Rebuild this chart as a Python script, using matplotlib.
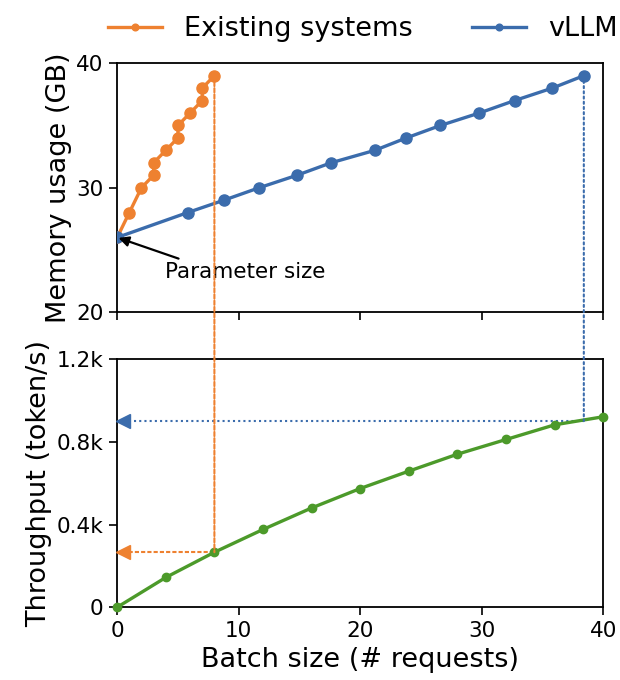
import matplotlib
matplotlib.use("Agg")
import matplotlib.pyplot as plt
from matplotlib.patches import ConnectionPatch
from matplotlib.ticker import FuncFormatter

# memory usage (GB) vs batch size
exist_bs = [0, 1, 2, 3, 3, 4, 5, 5, 6, 7, 7, 8]
exist_mem = [26, 28, 30, 31, 32, 33, 34, 35, 36, 37, 38, 39]
vllm_bs = [0, 5.8, 8.8, 11.7, 14.8, 17.6, 21.2, 23.8, 26.6, 29.8, 32.7, 35.8, 38.4]
vllm_mem = [26, 28, 29, 30, 31, 32, 33, 34, 35, 36, 37, 38, 39]

# throughput (token/s) vs batch size
thr_bs = [0, 4, 8, 12, 16, 20, 24, 28, 32, 36, 40]
thr = [0, 144, 266, 376, 480, 574, 658, 740, 811, 882, 921]

exist_max_bs = 8
exist_thr = 266
vllm_max_bs = 38.4
vllm_thr = 900

orange = '#EE8130'
blue = '#3B6CAC'
green = '#4C9A2A'

fig = plt.figure(figsize=(6.2, 6.8), dpi=100)
ax1 = fig.add_axes([0.189, 0.541, 0.784, 0.366])
ax2 = fig.add_axes([0.189, 0.107, 0.784, 0.365])

ax1.plot(exist_bs, exist_mem, '-o', color=orange, lw=2.4, ms=8, label='Existing systems', zorder=3)
ax1.plot(vllm_bs, vllm_mem, '-o', color=blue, lw=2.4, ms=8, label='vLLM', zorder=3)
ax1.set_xlim(0, 40)
ax1.set_ylim(20, 40)
ax1.set_yticks([20, 30, 40])
ax1.set_xticks([0, 10, 20, 30, 40])
ax1.set_xticklabels([])
ax1.set_ylabel('Memory usage (GB)', fontsize=19.5, labelpad=3)
ax1.tick_params(labelsize=15.5, length=6, width=1.2, pad=4)

ax1.annotate('Parameter size', xy=(0, 26), xytext=(3.95, 23.2),
             fontsize=15.5, va='center', ha='left',
             arrowprops=dict(arrowstyle='-|>', color='black', lw=1.6,
                             relpos=(0.15, 1.0), shrinkA=2, shrinkB=1,
                             mutation_scale=15))

ax2.plot(thr_bs, thr, '-o', color=green, lw=2.4, ms=6, zorder=3, clip_on=False)
ax2.set_xlim(0, 40)
ax2.set_ylim(0, 1200)
ax2.set_yticks([0, 400, 800, 1200])
ax2.yaxis.set_major_formatter(FuncFormatter(lambda v, p: '0' if v == 0 else f'{v/1000:.1f}k'))
ax2.set_xticks([0, 10, 20, 30, 40])
ax2.set_xlabel('Batch size (# requests)', fontsize=19.5, labelpad=4)
ax2.set_ylabel('Throughput (token/s)', fontsize=19.5, labelpad=3)
ax2.tick_params(labelsize=15.5, length=6, width=1.2, pad=4)

for ax in (ax1, ax2):
    for s in ax.spines.values():
        s.set_linewidth(1.3)

# vertical guides across both panels
for bs, mem, t, c, ls in [(exist_max_bs, 39, exist_thr, orange, (0, (2, 1))),
                          (vllm_max_bs, 39, vllm_thr, blue, (0, (1, 1.5)))]:
    con = ConnectionPatch(xyA=(bs, mem), coordsA=ax1.transData,
                          xyB=(bs, t), coordsB=ax2.transData,
                          color=c, lw=1.5, linestyle=ls, zorder=1)
    fig.add_artist(con)
    ax2.plot([bs, 0.6], [t, t], color=c, lw=1.5, linestyle=ls, zorder=2)
    ax2.plot([0.5], [t], marker='<', color=c, ms=10, clip_on=False, zorder=4)

fig.legend(loc='upper center', bbox_to_anchor=(0.585, 1.012), ncol=2, frameon=False,
           fontsize=19.5, columnspacing=2.2, handlelength=2.0, markerscale=0.6)

fig.savefig('out.png', dpi=100)
